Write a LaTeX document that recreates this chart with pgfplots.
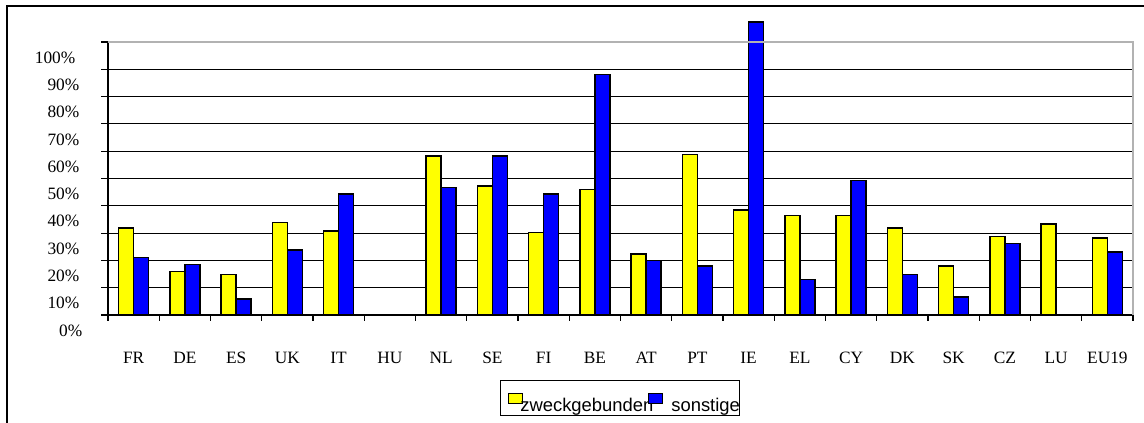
\documentclass[border=0pt]{standalone}
\usepackage{fontspec}
\setmainfont{Liberation Serif}
\newfontfamily\arial{Liberation Sans}
\usepackage{pgfplots}
\usepackage{pgfplotstable}
\pgfplotsset{compat=1.18}
\definecolor{xlyellow}{RGB}{255,255,0}
\definecolor{xlblue}{RGB}{0,0,255}
\pgfplotsset{
  yimg/.style={legend image code/.code={\draw[##1,line width=1pt,overlay] (0pt,5.8pt) rectangle (10.5pt,13.3pt);
    \path[draw=none,fill=none] (-6pt,5.8pt) rectangle (9pt,21.25pt);}},
  bimg/.style={legend image code/.code={\draw[##1,line width=1pt,overlay] (0pt,5.8pt) rectangle (10.5pt,13.3pt);
    \path[draw=none,fill=none] (0pt,5.8pt) rectangle (17.25pt,21.25pt);}},
}
\pgfplotstableread{
x cat y1 y2
0 FR 31.9 21.1
1 DE 16.0 18.6
2 ES 14.8 5.9
3 UK 34.0 23.8
4 IT 30.8 44.3
5 HU nan nan
6 NL 58.2 46.6
7 SE 47.3 58.2
8 FI 30.1 44.3
9 BE 46.0 88.1
10 AT 22.4 20.0
11 PT 58.8 18.0
12 IE 38.4 107.3
13 EL 36.4 13.0
14 CY 36.4 49.3
15 DK 31.9 14.8
16 SK 18.0 6.6
17 CZ 28.7 26.3
18 LU 33.3 nan
19 EU19 28.2 23.1
}\datatable
\begin{document}
\begin{tikzpicture}
\useasboundingbox (0,0) rectangle (858pt,317.25pt);
\fill[white] (0,0) rectangle (858pt,317.25pt);
\draw[line width=1.1pt] (5.25pt,-3pt) -- (5.25pt,312.75pt) -- (862pt,312.75pt);
\begin{axis}[
  at={(81pt,81pt)}, anchor=south west,
  scale only axis, width=768.75pt, height=204.75pt,
  ybar, ybar=0pt, bar width=11.25pt,
  xmin=-0.5, xmax=19.5, ymin=0, ymax=100,
  clip=false,
  axis x line*=bottom, axis y line*=left,
  axis line style={-, black, line width=0.8pt},
  xtick={0,...,19},
  xticklabels={FR,DE,ES,UK,IT,HU,NL,SE,FI,BE,AT,PT,IE,EL,CY,DK,SK,CZ,LU,EU19},
  major x tick style={draw=none},
  minor xtick={-0.5,0.5,...,19.5},
  minor x tick style={black, line width=0.8pt},
  ytick={0,10,...,100},
  yticklabels={{0\%\kern-2.25pt},10\%,20\%,30\%,40\%,50\%,60\%,70\%,80\%,90\%,{100\%\kern3pt}},
  y tick style={black, line width=0.8pt},
  tick align=outside,
  major tick length=5.25pt, minor tick length=4.5pt,
  ymajorgrids, grid style={black, line width=0.6pt},
  xticklabel style={font=\fontsize{13}{15}\selectfont, anchor=base, yshift=-31.5pt},
  yticklabel style={font=\fontsize{13}{15}\selectfont, anchor=east, yshift=-11.6pt, xshift=-12.75pt},
  legend style={at={(axis description cs:0.3824,-0.2381)}, anchor=north west,
    legend columns=2, draw=black, line width=0.6pt,
    font=\arial\fontsize{13.8}{15}\selectfont, inner xsep=0pt, inner ysep=1.8pt,
    nodes={inner sep=0pt}, cells={anchor=base west},
    /tikz/every even column/.append style={column sep=-3.75pt}},
  every axis plot/.append style={draw=black, line width=1pt},
]
\addplot[fill=xlyellow, yimg] table[x=x, y=y1] {\datatable};
\addplot[fill=xlblue, bimg] table[x=x, y=y2] {\datatable};
\legend{zweckgebunden,sonstige}
\draw[gray!60, line width=1pt] (rel axis cs:0,1) -- (rel axis cs:1,1) -- (rel axis cs:1,0);
\end{axis}
\end{tikzpicture}
\end{document}
